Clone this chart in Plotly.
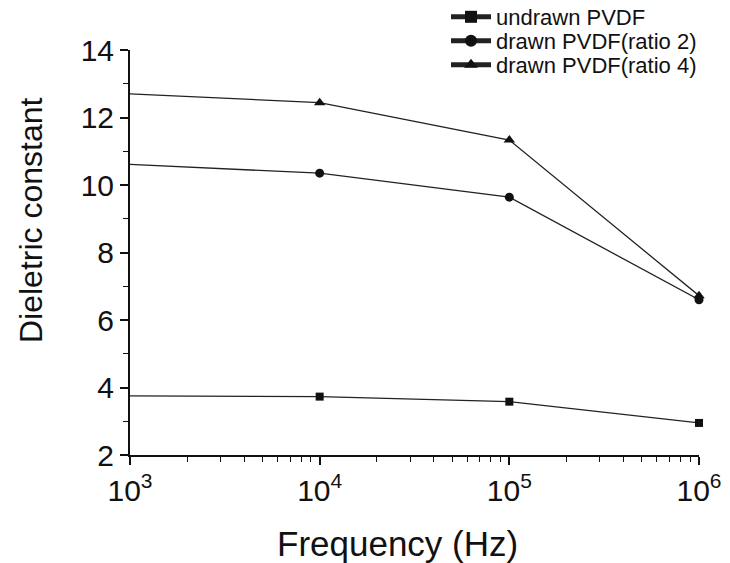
import plotly.graph_objects as go

# Measured dielectric constant vs. frequency
freq_hz = [1e3, 1e4, 1e5, 1e6]
undrawn = [3.75, 3.73, 3.58, 2.95]
drawn_ratio2 = [10.61, 10.35, 9.64, 6.6]
drawn_ratio4 = [12.70, 12.44, 11.33, 6.72]

series_names = ["undrawn PVDF", "drawn PVDF(ratio 2)", "drawn PVDF(ratio 4)"]
series_values = [undrawn, drawn_ratio2, drawn_ratio4]
series_symbols = ["square", "circle", "triangle-up"]
series_sizes = [8, 9, 10]

x_tick_vals = [1e3, 1e4, 1e5, 1e6]
x_tick_text = ["10<sup>3</sup>", "10<sup>4</sup>", "10<sup>5</sup>", "10<sup>6</sup>"]
x_minor_vals = [m * 10 ** e for e in range(3, 6) for m in range(2, 10)]

FONT = "Liberation Sans, Arial, sans-serif"
INK = "#111111"

W, H = 730, 563
M_L, M_R, M_T, M_B = 130, 31, 50, 108
plot_w = W - M_L - M_R
plot_h = H - M_T - M_B

# one legend per series so each row sits at its own height
legend_ids = ["legend", "legend2", "legend3"]
legend_rows_px = [17, 41, 65]

fig = go.Figure()
for name, vals, sym, size, lid in zip(series_names, series_values, series_symbols,
                                      series_sizes, legend_ids):
    fig.add_trace(go.Scatter(
        x=freq_hz, y=vals, name=name, mode="lines+markers",
        line=dict(color="#222222", width=1.3),
        marker=dict(symbol=sym, size=size, color=INK),
        cliponaxis=False, legend=lid,
    ))

legend_layouts = {}
for lid, row in zip(legend_ids, legend_rows_px):
    legend_layouts[lid] = dict(
        xref="container", yref="container",
        x=446 / W, y=1 - row / H, xanchor="left", yanchor="middle",
        bgcolor="rgba(0,0,0,0)", font=dict(size=22, family=FONT),
        itemsizing="constant", itemwidth=40,
    )

fig.update_layout(
    width=W, height=H,
    margin=dict(l=M_L, r=M_R, t=M_T, b=M_B, autoexpand=False),
    paper_bgcolor="white", plot_bgcolor="white",
    font=dict(family=FONT, color=INK),
    showlegend=True,
    **legend_layouts,
)

# axis titles placed as annotations relative to the plotting area
fig.add_annotation(
    text="Frequency (Hz)", xref="paper", yref="paper",
    x=(397 - M_L) / plot_w, y=(M_T + plot_h - 543) / plot_h,
    showarrow=False, xanchor="center", yanchor="middle",
    font=dict(size=35, family=FONT, color=INK),
)
fig.add_annotation(
    text="Dieletric constant", xref="paper", yref="paper",
    x=(31 - M_L) / plot_w, y=(M_T + plot_h - 220) / plot_h,
    textangle=-90, showarrow=False, xanchor="center", yanchor="middle",
    font=dict(size=32, family=FONT, color=INK),
)

fig.update_xaxes(
    type="log", range=[3, 6],
    tickmode="array", tickvals=x_tick_vals, ticktext=x_tick_text,
    ticks="outside", ticklen=8, tickwidth=1.5, tickcolor=INK,
    minor=dict(tickmode="array", tickvals=x_minor_vals, ticks="outside",
               ticklen=5, tickwidth=1.2, tickcolor=INK, showgrid=False),
    showline=True, linecolor=INK, linewidth=2,
    showgrid=False, zeroline=False,
    tickfont=dict(size=30, family=FONT),
)

fig.update_yaxes(
    range=[2, 14], tickmode="linear", tick0=2, dtick=2,
    ticks="outside", ticklen=8, tickwidth=1.5, tickcolor=INK,
    minor=dict(dtick=1, ticks="outside", ticklen=5, tickwidth=1.2,
               tickcolor=INK, showgrid=False),
    showline=True, linecolor=INK, linewidth=2,
    showgrid=False, zeroline=False,
    tickfont=dict(size=30, family=FONT),
)

fig.write_html("out.html")
